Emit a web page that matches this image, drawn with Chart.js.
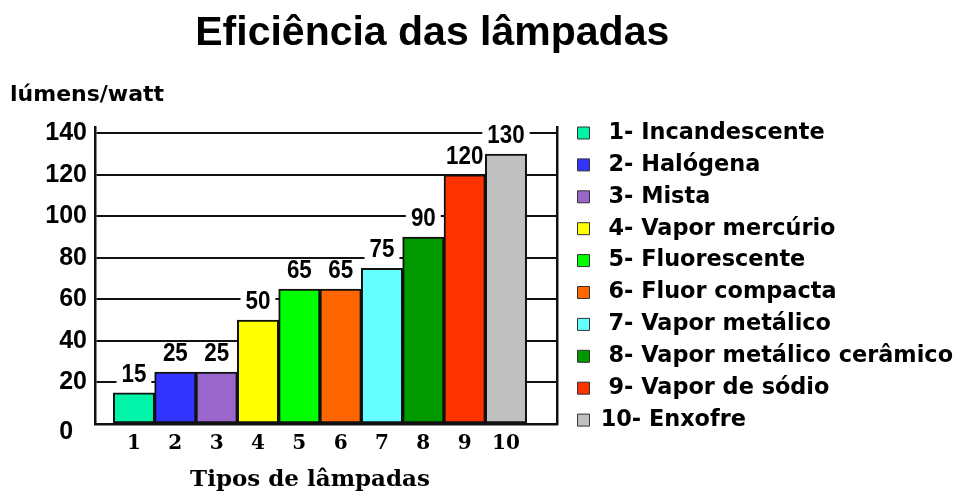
<!DOCTYPE html>
<html>
<head>
    <title>Eficiência das lâmpadas</title>
    <script src="https://cdn.jsdelivr.net/npm/chart.js"></script>
    <style>
        html, body { margin: 0; padding: 0; background: #fff; }
        #wrap { width: 957px; height: 495px; }
    </style>
</head>
<body>
    <div id="wrap"><canvas id="lampChart"></canvas></div>

    <script>
        // dados do grafico
        const categories = ['1', '2', '3', '4', '5', '6', '7', '8', '9', '10'];
        const lampTypes = ['Incandescente', 'Halógena', 'Mista', 'Vapor mercúrio', 'Fluorescente',
            'Fluor compacta', 'Vapor metálico', 'Vapor metálico cerâmico', 'Vapor de sódio', 'Enxofre'];
        const efficiency = [15, 25, 25, 50, 65, 65, 75, 90, 120, 130];
        const barColors = ['#00F5A8', '#3333FF', '#9966CC', '#FFFF00', '#00FF00',
            '#FF6600', '#66FFFF', '#009900', '#FF3300', '#C0C0C0'];
        const yTicks = [0, 20, 40, 60, 80, 100, 120, 140];

        const sansFont = '"Liberation Sans", Arial, sans-serif';

        // rotulos de valor com fundo branco (cobrem as linhas de grade)
        const valueLabels = {
            id: 'valueLabels',
            beforeDatasetsDraw(chart) {
                const ctx = chart.ctx;
                const meta = chart.getDatasetMeta(0);
                ctx.save();
                ctx.font = 'bold 26px ' + sansFont;
                ctx.textAlign = 'center';
                ctx.textBaseline = 'middle';
                meta.data.forEach((bar, i) => {
                    const text = String(efficiency[i]);
                    const w = ctx.measureText(text).width * 0.86;
                    const y = bar.y - 18;
                    ctx.fillStyle = '#fff';
                    ctx.fillRect(bar.x - w / 2 - 5, y - 10, w + 10, 20);
                    ctx.save();
                    ctx.translate(bar.x, y);
                    ctx.scale(0.86, 1); // letra estreita
                    ctx.fillStyle = '#000';
                    ctx.fillText(text, 0, 0);
                    ctx.restore();
                });
                ctx.restore();
            }
        };

        const ctx = document.getElementById('lampChart').getContext('2d');
        const lampChart = new Chart(ctx, {
            type: 'bar',
            data: {
                labels: categories,
                datasets: [{
                    label: 'lúmens/watt',
                    data: efficiency,
                    backgroundColor: barColors,
                    borderColor: '#111',
                    borderWidth: 2,
                    borderSkipped: false,
                    barPercentage: 1,
                    categoryPercentage: 1
                }]
            },
            options: {
                responsive: true,
                maintainAspectRatio: false,
                animation: false,
                layout: { padding: { left: 10, right: 0, top: 0, bottom: 0 } },
                scales: {
                    x: {
                        type: 'linear',
                        min: 0.057,
                        max: 11.234,
                        offset: false,
                        afterBuildTicks: s => { s.ticks = categories.map((c, i) => ({ value: i + 1 })); },
                        afterFit: s => { s.height = 71; },
                        grid: { display: false, drawTicks: false },
                        border: { display: true, color: '#111', width: 2.5 },
                        ticks: {
                            autoSkip: false,
                            maxRotation: 0,
                            padding: 8,
                            color: '#000',
                            font: { family: '"DejaVu Serif", serif', weight: 'bold', size: 20 },
                            callback: v => categories[v - 1]
                        },
                        title: {
                            display: true,
                            text: 'Tipos de lâmpadas    ',
                            color: '#000',
                            padding: { top: 0, bottom: 1 },
                            font: { family: '"DejaVu Serif", serif', weight: 'bold', size: 23 }
                        }
                    },
                    y: {
                        min: 0,
                        max: 142.8,
                        afterBuildTicks: s => { s.ticks = yTicks.map(v => ({ value: v })); },
                        afterFit: s => { s.width = 85; },
                        grid: { color: '#111', lineWidth: 2, drawTicks: false },
                        border: { display: true, color: '#111', width: 2.5 },
                        ticks: {
                            padding: 8,
                            color: '#000',
                            font: { family: sansFont, weight: 'bold', size: 25, lineHeight: 0.68 },
                            callback: v => v === 0 ? ['', '0  '] : String(v)
                        }
                    },
                    y2: {
                        position: 'right',
                        min: 0,
                        max: 142.8,
                        afterFit: s => { s.width = 11; },
                        grid: { drawOnChartArea: false, drawTicks: false },
                        border: { display: true, color: '#111', width: 2.5 },
                        ticks: { display: false }
                    }
                },
                plugins: {
                    title: {
                        display: true,
                        text: 'Eficiência das lâmpadas         ',
                        color: '#000',
                        padding: { top: 9, bottom: 0 },
                        font: { family: sansFont, weight: 'bold', size: 41 }
                    },
                    subtitle: {
                        display: true,
                        text: 'lúmens/watt',
                        align: 'start',
                        color: '#000',
                        padding: { top: 23.6, bottom: 19.3 },
                        font: { family: '"DejaVu Sans", sans-serif', weight: 'bold', size: 22 }
                    },
                    legend: {
                        position: 'right',
                        align: 'start',
                        maxWidth: 389,
                        title: {
                            display: true,
                            text: '',
                            padding: { top: 97.9, bottom: 0 },
                            font: { size: 12 }
                        },
                        labels: {
                            boxWidth: 12,
                            boxHeight: 12,
                            padding: 9.5,
                            color: '#000',
                            font: { family: '"DejaVu Sans", sans-serif', weight: 'bold', size: 22.4 },
                            generateLabels: () => lampTypes.map((name, i) => ({
                                text: (i < 9 ? ' ' : '') + categories[i] + '- ' + name,
                                fillStyle: barColors[i],
                                strokeStyle: '#333',
                                fontColor: '#000',
                                lineWidth: 1,
                                index: i
                            }))
                        }
                    },
                    tooltip: { enabled: false }
                }
            },
            plugins: [valueLabels]
        });
    </script>
</body>
</html>
